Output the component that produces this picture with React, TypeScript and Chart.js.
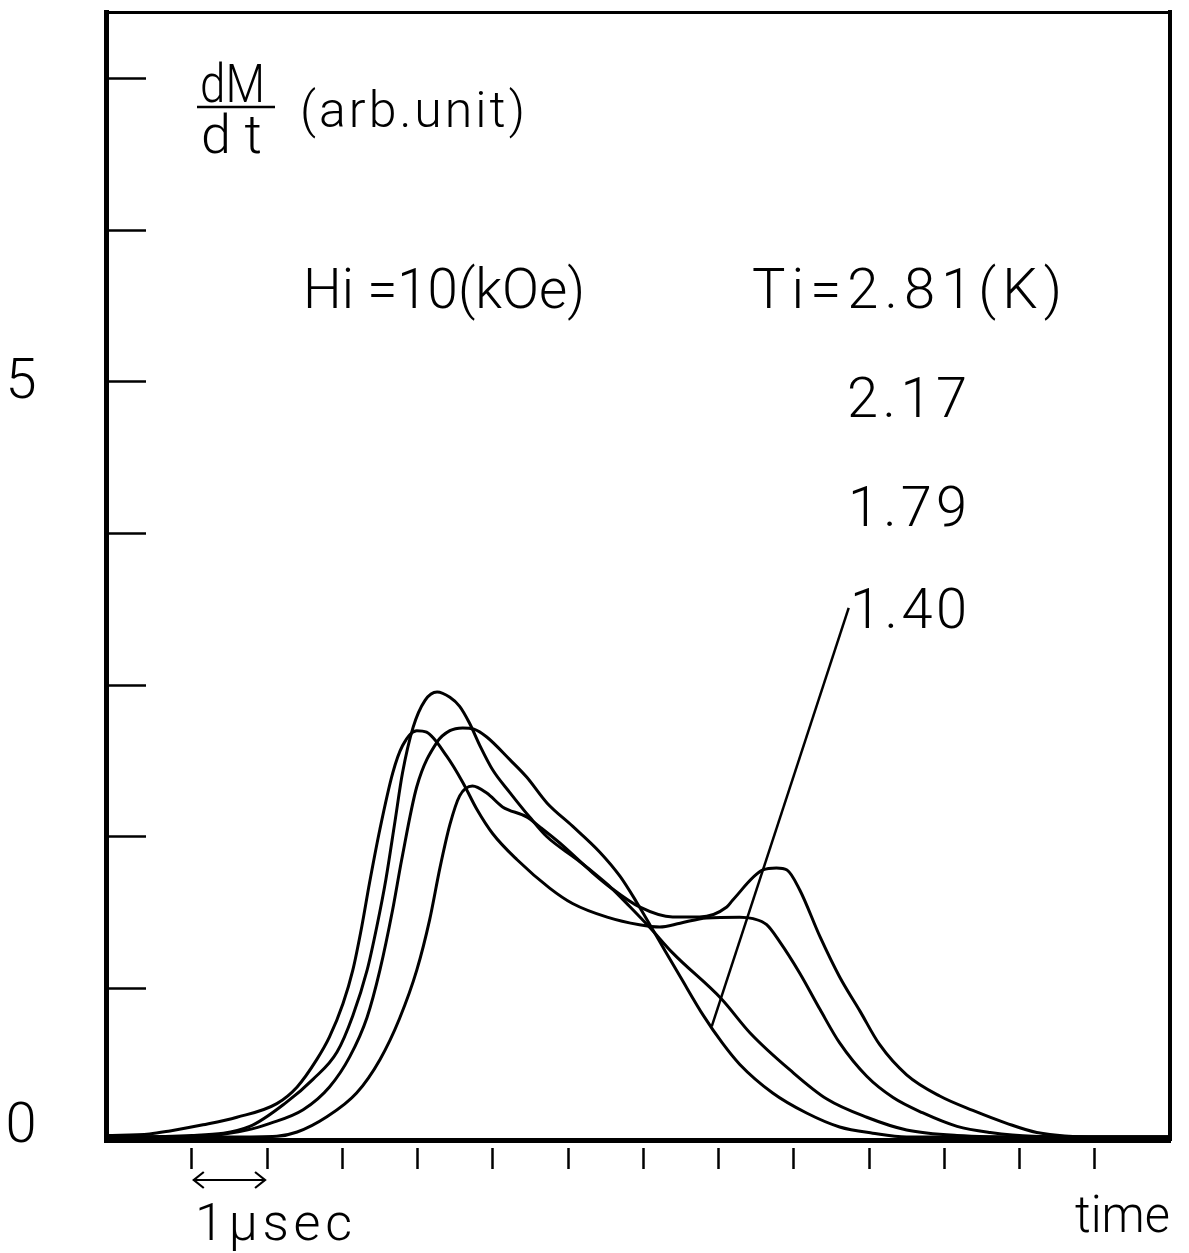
import React, { useEffect, useRef } from "react";
import { Chart, registerables } from "chart.js";

Chart.register(...registerables);

// ---------- data (time in µsec from the first tick, dM/dt in arb. units) ----------
const xTicks = [0, 1, 2, 3, 4, 5, 6, 7, 8, 9, 10, 11, 12];
const yTicks = [0, 1, 2, 3, 4, 5, 6, 7];
const yLabelValues = [0, 5];
const yLabelTexts = ["0", "5"];
const arrowSpan = [0, 1]; // 1 µsec marker

const seriesNames = ["Ti=2.81 K", "Ti=2.17 K", "Ti=1.79 K", "Ti=1.40 K"];

const curve281: [number, number][] = [
  [-1.14, 0.03], [-0.56, 0.04], [-0.29, 0.06], [0.15, 0.1], [0.6, 0.15], [1.13, 0.24],
  [1.4, 0.35], [1.66, 0.53], [1.83, 0.68], [2.01, 0.9], [2.14, 1.12], [2.26, 1.41],
  [2.36, 1.69], [2.5, 2.05], [2.67, 2.42], [2.8, 2.6], [2.99, 2.7], [3.12, 2.69],
  [3.39, 2.53], [3.6, 2.36], [3.79, 2.18], [4.0, 2.02], [4.32, 1.85], [4.76, 1.66],
  [5.06, 1.56], [5.52, 1.47], [5.95, 1.42], [6.22, 1.405], [6.49, 1.43], [6.84, 1.465],
  [7.28, 1.47], [7.46, 1.46], [7.64, 1.42], [7.81, 1.31], [8.08, 1.1], [8.35, 0.86],
  [8.61, 0.64], [8.97, 0.42], [9.32, 0.28], [9.71, 0.18], [10.17, 0.09], [10.61, 0.05],
  [11.18, 0.025], [12.07, 0.02], [13.0, 0.02],
];

const curve217: [number, number][] = [
  [-1.14, 0.02], [0.0, 0.03], [0.77, 0.09], [1.26, 0.25], [1.61, 0.4], [1.93, 0.58],
  [2.14, 0.82], [2.33, 1.12], [2.46, 1.41], [2.58, 1.72], [2.7, 2.1], [2.8, 2.42],
  [2.94, 2.72], [3.1, 2.9], [3.26, 2.955], [3.43, 2.92], [3.56, 2.86], [3.69, 2.75],
  [3.83, 2.6], [4.0, 2.44], [4.23, 2.29], [4.49, 2.13], [4.72, 2.0], [5.12, 1.85],
  [5.42, 1.73], [5.56, 1.67], [5.82, 1.54], [6.09, 1.4], [6.39, 1.234], [7.04, 0.93],
  [7.42, 0.706], [7.95, 0.462], [8.44, 0.27], [8.97, 0.15], [9.5, 0.066], [10.17, 0.03],
  [11.18, 0.02], [13.0, 0.02],
];

const curve179: [number, number][] = [
  [-1.14, 0.02], [0.5, 0.02], [1.13, 0.025], [1.4, 0.053], [1.79, 0.152], [2.19, 0.31],
  [2.5, 0.53], [2.76, 0.8], [2.99, 1.12], [3.16, 1.45], [3.3, 1.8], [3.43, 2.08],
  [3.56, 2.27], [3.73, 2.335], [3.92, 2.289], [4.13, 2.197], [4.45, 2.131], [4.625, 2.065],
  [4.89, 1.959], [5.33, 1.761], [5.555, 1.669], [5.95, 1.537], [6.39, 1.471], [6.75, 1.471],
  [7.11, 1.537], [7.19, 1.583], [7.59, 1.781], [7.77, 1.794], [7.91, 1.781], [8.08, 1.649],
  [8.35, 1.339], [8.61, 1.075], [8.88, 0.85], [9.14, 0.63], [9.5, 0.43], [9.94, 0.29],
  [10.38, 0.195], [10.83, 0.11], [11.23, 0.05], [12.07, 0.02], [13.0, 0.02],
];

const curve140: [number, number][] = [
  [-1.14, 0.02], [0.0, 0.02], [0.73, 0.066], [1.04, 0.11], [1.48, 0.2], [1.83, 0.35],
  [2.1, 0.55], [2.33, 0.81], [2.5, 1.12], [2.67, 1.52], [2.79, 1.85], [2.99, 2.33],
  [3.26, 2.625], [3.43, 2.7], [3.6, 2.718], [3.75, 2.71], [3.92, 2.658], [4.23, 2.507],
  [4.45, 2.394], [4.72, 2.223], [5.06, 2.07], [5.42, 1.9], [5.69, 1.74], [5.91, 1.57],
  [6.17, 1.35], [6.5, 1.07], [6.8, 0.82], [7.05, 0.64], [7.28, 0.5], [7.72, 0.31],
  [8.17, 0.178], [8.61, 0.086], [9.05, 0.045], [9.5, 0.02], [13.0, 0.02],
];

// leader line from the "1.40" label to its curve
const pointerLine: [number, number][] = [
  [8.73, 3.51], [6.91, 0.75],
];

// ---------- styling / layout ----------
const FONT = "Roboto, 'Liberation Sans', 'DejaVu Sans', sans-serif";

type Txt = { text: string; x: number; y: number; w: number; size: number };
const texts: Txt[] = [
  { text: "dM", x: 200, y: 102, w: 65, size: 54 },
  { text: "d t", x: 201, y: 153, w: 61, size: 54 },
  { text: "(arb.unit)", x: 300, y: 127, w: 225, size: 50 },
  { text: "Hi =10(kOe)", x: 303, y: 308, w: 282, size: 56 },
  { text: "Ti=2.81(K)", x: 752, y: 308, w: 310, size: 56 },
  { text: "2.17", x: 847, y: 417, w: 120, size: 56 },
  { text: "1.79", x: 848, y: 526, w: 119, size: 56 },
  { text: "1.40", x: 850, y: 628, w: 117, size: 56 },
  { text: "1µsec", x: 195, y: 1240, w: 157, size: 52 },
  { text: "time", x: 1075, y: 1232, w: 95, size: 52 },
];

function drawFit(ctx: CanvasRenderingContext2D, t: Txt) {
  ctx.font = `300 ${t.size}px ${FONT}`;
  (ctx as any).letterSpacing = "0px";
  ctx.textAlign = "left";
  ctx.textBaseline = "alphabetic";
  const w = ctx.measureText(t.text).width;
  const n = Array.from(t.text).length;
  if (w > t.w) {
    ctx.save();
    ctx.translate(t.x, t.y);
    ctx.scale(t.w / w, 1);
    ctx.fillText(t.text, 0, 0);
    ctx.restore();
    return;
  }
  const ls = n > 1 ? (t.w - w) / (n - 1) : 0;
  (ctx as any).letterSpacing = `${ls}px`;
  ctx.fillText(t.text, t.x, t.y);
  (ctx as any).letterSpacing = "0px";
}

const annotations = {
  id: "annotations",
  afterDraw(chart: any) {
    const ctx: CanvasRenderingContext2D = chart.ctx;
    const xs = chart.scales.x;
    const ys = chart.scales.y;
    ctx.save();
    ctx.fillStyle = "#000";
    ctx.strokeStyle = "#000";
    texts.forEach((t) => drawFit(ctx, t));
    // fraction bar of dM/dt
    ctx.lineWidth = 2.5;
    ctx.beginPath();
    ctx.moveTo(197, 107);
    ctx.lineTo(275, 107);
    ctx.stroke();
    // y-axis labels
    ctx.font = `300 56px ${FONT}`;
    (ctx as any).letterSpacing = "0px";
    ctx.textAlign = "center";
    ctx.textBaseline = "middle";
    yLabelValues.forEach((v, i) => {
      const py = ys.getPixelForValue(v) + (v === 0 ? -12 : 2);
      ctx.fillText(yLabelTexts[i], 21, py);
    });
    // 1 µsec double arrow
    const a0 = xs.getPixelForValue(arrowSpan[0]);
    const a1 = xs.getPixelForValue(arrowSpan[1]);
    const ay = 1180;
    ctx.lineWidth = 2.2;
    ctx.beginPath();
    ctx.moveTo(a0 + 2, ay);
    ctx.lineTo(a1 - 2, ay);
    ctx.moveTo(a0 + 12, ay - 8);
    ctx.lineTo(a0 + 2, ay);
    ctx.lineTo(a0 + 12, ay + 8);
    ctx.moveTo(a1 - 12, ay - 8);
    ctx.lineTo(a1 - 2, ay);
    ctx.lineTo(a1 - 12, ay + 8);
    ctx.stroke();
    ctx.restore();
  },
};

const toXY = (arr: [number, number][]) => arr.map(([x, y]) => ({ x, y }));

export default function App() {
  const ref = useRef<HTMLCanvasElement | null>(null);

  useEffect(() => {
    if (!ref.current) return;
    const curves = [curve281, curve217, curve179, curve140];
    const datasets: any[] = curves.map((c, i) => ({
      label: seriesNames[i],
      data: toXY(c),
      borderColor: "#000",
      borderWidth: 3,
      pointRadius: 0,
      fill: false,
      cubicInterpolationMode: "monotone",
    }));
    datasets.push({
      label: "leader 1.40",
      data: toXY(pointerLine),
      borderColor: "#000",
      borderWidth: 2.5,
      pointRadius: 0,
      fill: false,
      tension: 0,
    });

    const chart = new Chart(ref.current, {
      type: "line",
      data: { datasets },
      plugins: [annotations],
      options: {
        responsive: false,
        devicePixelRatio: 1,
        animation: false,
        layout: { padding: 0 },
        plugins: { legend: { display: false }, tooltip: { enabled: false } },
        scales: {
          x: {
            type: "linear",
            position: "bottom",
            min: -1.14,
            max: 13.0,
            afterBuildTicks: (s: any) => {
              s.ticks = xTicks.map((value) => ({ value }));
            },
            afterFit: (s: any) => {
              s.height = 113;
            },
            ticks: { display: false },
            grid: {
              display: true,
              drawOnChartArea: false,
              drawTicks: true,
              tickLength: 29,
              tickWidth: 2.5,
              tickColor: "#000",
              tickBorderDash: [21, 100],
              tickBorderDashOffset: 116,
            },
            border: { display: true, color: "#000", width: 5 },
          },
          x2: {
            type: "linear",
            position: "top",
            min: -1.14,
            max: 13.0,
            afterFit: (s: any) => {
              s.height = 12;
            },
            ticks: { display: false },
            grid: { display: false },
            border: { display: true, color: "#000", width: 3 },
          },
          y: {
            type: "linear",
            position: "left",
            min: 0,
            max: 7.44,
            afterBuildTicks: (s: any) => {
              s.ticks = yTicks.map((value) => ({ value }));
            },
            afterFit: (s: any) => {
              s.width = 106;
            },
            ticks: { display: false },
            grid: {
              display: true,
              drawOnChartArea: false,
              drawTicks: true,
              tickLength: -40,
              tickWidth: 2.5,
              tickColor: "#000",
            },
            border: { display: true, color: "#000", width: 5 },
          },
          y2: {
            type: "linear",
            position: "right",
            min: 0,
            max: 7.44,
            afterFit: (s: any) => {
              s.width = 19;
            },
            ticks: { display: false },
            grid: { display: false },
            border: { display: true, color: "#000", width: 4 },
          },
        },
      } as any,
    });
    return () => chart.destroy();
  }, []);

  return (
    <div
      style={{
        position: "absolute",
        left: 0,
        top: 0,
        width: 1189,
        height: 1253,
        background: "#fff",
      }}
    >
      <canvas
        ref={ref}
        width={1189}
        height={1253}
        style={{ display: "block", width: 1189, height: 1253 }}
      />
    </div>
  );
}
